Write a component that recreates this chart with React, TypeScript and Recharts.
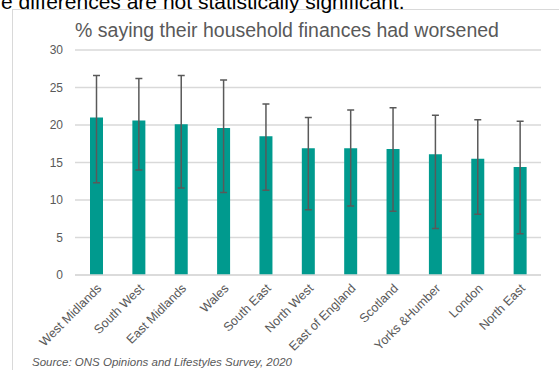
import { BarChart, Bar, XAxis, YAxis, CartesianGrid, ErrorBar } from "recharts";

const regions = [
  "West Midlands",
  "South West",
  "East Midlands",
  "Wales",
  "South East",
  "North West",
  "East of England",
  "Scotland",
  "Yorks &Humber",
  "London",
  "North East",
];
const percentWorsened = [21.0, 20.6, 20.1, 19.6, 18.5, 16.9, 16.9, 16.8, 16.1, 15.5, 14.4];
const lowerCI = [12.3, 14.0, 11.6, 11.0, 11.3, 8.7, 9.2, 8.5, 6.2, 8.1, 5.5];
const upperCI = [26.6, 26.2, 26.6, 26.0, 22.8, 21.0, 22.0, 22.3, 21.3, 20.7, 20.5];
const yTicks = [0, 5, 10, 15, 20, 25, 30];

const TEAL = "#009a8e";
const GREY_TEXT = "#595959";
const GRID = "#d9d9d9";
const FONT = "'Liberation Sans', Arial, sans-serif";

const data = regions.map((name, i) => ({
  name,
  value: percentWorsened[i],
  err: [percentWorsened[i] - lowerCI[i], upperCI[i] - percentWorsened[i]],
}));

function RegionTick(props: any) {
  const { x, y, payload } = props;
  const tx = x + 3;
  const ty = y + 3;
  return (
    <text
      x={tx}
      y={ty}
      transform={`rotate(-45, ${tx}, ${ty})`}
      textAnchor="end"
      dy="0.35em"
      fill={GREY_TEXT}
      fontSize={12.5}
      fontFamily={FONT}
    >
      {payload.value}
    </text>
  );
}

export default function App() {
  return (
    <div
      style={{
        position: "absolute",
        left: 0,
        top: 0,
        width: 559,
        height: 370,
        overflow: "hidden",
        background: "#fff",
      }}
    >
      <div
        style={{
          position: "absolute",
          left: 12,
          top: 9,
          width: 600,
          height: 400,
          borderLeft: `1px solid ${GRID}`,
          borderTop: `1px solid ${GRID}`,
        }}
      />
      <div style={{ position: "absolute", left: 0, top: 0 }}>
        <BarChart
          width={559}
          height={370}
          data={data}
          margin={{ top: 50, right: 18, left: 15, bottom: 15 }}
          barSize={13}
        >
          <CartesianGrid vertical={false} stroke={GRID} strokeWidth={1.3} />
          <XAxis
            dataKey="name"
            interval={0}
            height={80}
            axisLine={{ stroke: GRID, strokeWidth: 1.3 }}
            tickLine={false}
            tick={<RegionTick />}
          />
          <YAxis
            domain={[0, 30]}
            ticks={yTicks}
            width={60}
            axisLine={false}
            tickLine={false}
            tickSize={0}
            tickMargin={12}
            tick={{ fill: GREY_TEXT, fontSize: 12, fontFamily: FONT }}
          />
          <Bar dataKey="value" fill={TEAL} isAnimationActive={false}>
            <ErrorBar
              dataKey="err"
              direction="y"
              width={3.5}
              stroke={GREY_TEXT}
              strokeWidth={1.5}
              isAnimationActive={false}
            />
          </Bar>
        </BarChart>
      </div>
      <svg
        width={559}
        height={370}
        style={{ position: "absolute", left: 0, top: 0, pointerEvents: "none" }}
      >
        <text x={1} y={9} fontSize={21} fontFamily={FONT} fill="#000">
          e differences are not statistically significant.
        </text>
        <text
          x={287}
          y={37}
          textAnchor="middle"
          fontSize={19.5}
          fontFamily={FONT}
          fill={GREY_TEXT}
        >
          % saying their household finances had worsened
        </text>
        <text
          x={32}
          y={366}
          fontSize={11.5}
          fontStyle="italic"
          fontFamily={FONT}
          fill={GREY_TEXT}
        >
          Source: ONS Opinions and Lifestyles Survey, 2020
        </text>
      </svg>
    </div>
  );
}
